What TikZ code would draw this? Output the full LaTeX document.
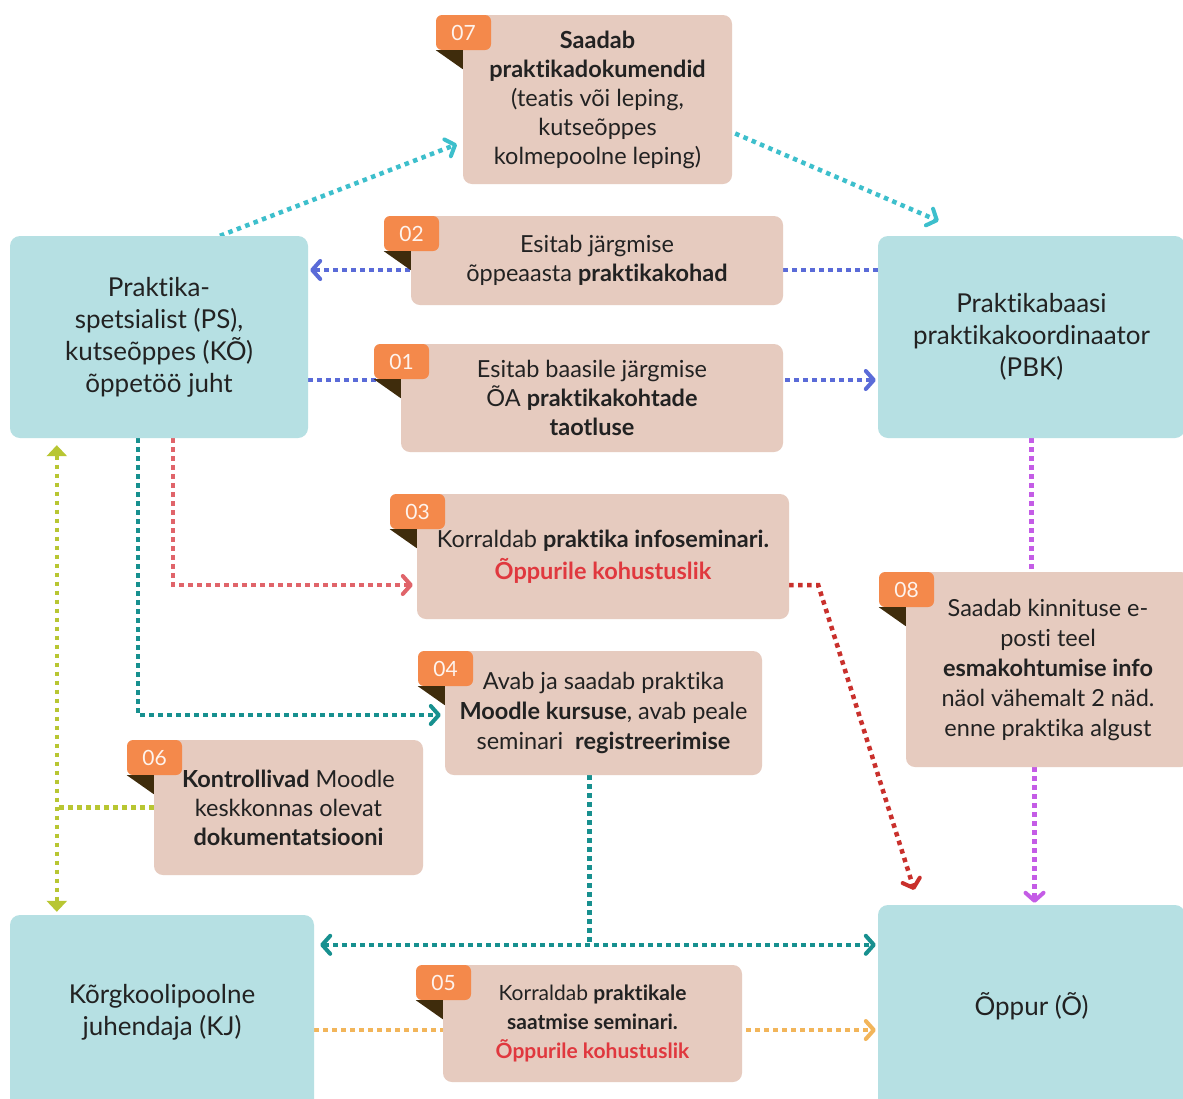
\documentclass[tikz,border=0pt]{standalone}
\usepackage{fontspec}
\setmainfont[Ligatures=CommonOff]{Lato}
\usetikzlibrary{arrows.meta,calc,backgrounds}

\definecolor{actorfill}{HTML}{B6E0E3}
\definecolor{stepfill}{HTML}{E6CBBF}
\definecolor{tagfill}{HTML}{F4894B}
\definecolor{tagshade}{HTML}{3F2C0C}
\definecolor{txt}{HTML}{222222}
\definecolor{redtxt}{HTML}{E0383E}
\definecolor{cyanline}{HTML}{3DBFCC}
\definecolor{blueline}{HTML}{5A6BD8}
\definecolor{redline}{HTML}{E0646A}
\definecolor{darkredline}{HTML}{C9302C}
\definecolor{tealline}{HTML}{17908F}
\definecolor{oliveline}{HTML}{B8C632}
\definecolor{purpleline}{HTML}{C45CE6}
\definecolor{orangeline}{HTML}{F2B55A}

\tikzset{
  actor/.style={fill=actorfill, rounded corners=10pt, align=center, text=txt,
    inner sep=0pt, font=\fontsize{26}{32}\selectfont},
  stepbox/.style={fill=stepfill, rounded corners=9pt, align=center, text=txt,
    inner sep=0pt, font=\fontsize{23.5}{29}\selectfont},
  tag/.style={fill=tagfill, rounded corners=6pt, minimum width=55pt, minimum height=35pt,
    anchor=north west, inner sep=0pt, text=white!90!tagfill, font=\fontsize{21}{21}\selectfont},
  barb/.tip={Straight Barb[length=8pt,width=18pt,line width=4pt,round]},
  dots/.style={line width=4.5pt, dash pattern=on 4.5pt off 4.5pt},
  flow/.style={dots, shorten >=2pt, -barb},
}

\begin{document}
\begin{tikzpicture}[x=1pt, y=-1pt]

  \useasboundingbox (0,0) rectangle (1183,1098);

  % Osapooled
  \node[actor, minimum width=298pt, minimum height=202pt] (ps) at (159,337)
    {Praktika-\\spetsialist (PS),\\kutseõppes (KÕ)\\õppetöö juht};
  \node[actor, minimum width=307pt, minimum height=202pt] (pbk) at (1031.5,337)
    {Praktikabaasi\\praktikakoordinaator\\(PBK)};
  \node[actor, minimum width=304pt, minimum height=195pt] (kj) at (162,1012.5)
    {Kõrgkoolipoolne\\juhendaja (KJ)};
  \node[actor, minimum width=307pt, minimum height=205pt] (op) at (1031.5,1007.5)
    {\raisebox{8pt}{Õppur (Õ)}};

  % Sammud
  \node[stepbox, minimum width=269pt, minimum height=169pt] (s07) at (597.5,99.5)
    {\textbf{Saadab}\\\textbf{praktikadokumendid}\\(teatis või leping,\\kutseõppes\\kolmepoolne leping)};
  \node[stepbox, minimum width=372pt, minimum height=89pt] (s02) at (597,260.5)
    {Esitab järgmise\\õppeaasta \textbf{praktikakohad}};
  \node[stepbox, minimum width=382pt, minimum height=108pt] (s01) at (592,398)
    {Esitab baasile järgmise\\ÕA \textbf{praktikakohtade}\\\textbf{taotluse}};
  \node[stepbox, minimum width=372pt, minimum height=125pt,
    font=\fontsize{23.5}{32}\selectfont] (s03) at (603,556.5)
    {Korraldab \textbf{praktika infoseminari.}\\\textcolor{redtxt}{\textbf{Õppurile kohustuslik}}};
  \node[stepbox, minimum width=317pt, minimum height=124pt,
    font=\fontsize{23.5}{30}\selectfont] (s04) at (603.5,713)
    {Avab ja saadab praktika\\\textbf{Moodle kursuse}, avab peale\\seminari~ \textbf{registreerimise}};
  \node[stepbox, minimum width=269pt, minimum height=135pt] (s06) at (288.5,807.5)
    {\textbf{Kontrollivad} Moodle\\keskkonnas olevat\\\textbf{dokumentatsiooni}};
  \node[stepbox, minimum width=299pt, minimum height=117pt,
    font=\fontsize{21}{29}\selectfont] (s05) at (592.5,1023.5)
    {Korraldab \textbf{praktikale}\\\textbf{saatmise seminari.}\\\textcolor{redtxt}{\textbf{Õppurile kohustuslik}}};
  \node[stepbox, minimum width=284pt, minimum height=195pt,
    font=\fontsize{23.5}{30}\selectfont] (s08) at (1048,669.5)
    {Saadab kinnituse e-\\posti teel\\\textbf{esmakohtumise info}\\näol vähemalt 2 näd.\\enne praktika algust};

  % Numbrisildid
  \foreach \s/\n in {s07/07, s02/02, s01/01, s03/03, s04/04, s06/06, s05/05, s08/08} {
    \node[tag] (t\n) at ($(\s.north west)+(-27,0)$) {\n};
    \fill[tagshade] (t\n.south west) -- (t\n.south west -| \s.west) -- ++(0,19) -- cycle;
  }

  % Nooled
  \begin{scope}[on background layer]
    \fill[white] (0,0) rectangle (1183,1098);
    % 07
    \draw[flow, cyanline] ([xshift=61pt]ps.north) -- ($(s07.west)+(-4,44)$);
    \draw[flow, cyanline] ($(s07.east)+(3,34)$) -- ($(pbk.north)+(-91,-14)$);
    % 02 ja 01
    \coordinate (l02) at ($(s02.center)+(0,9.5)$);
    \draw[flow, blueline] (pbk.west |- l02) -- (ps.east |- l02);
    \coordinate (l01) at ($(s01.center)+(0,-18)$);
    \draw[flow, blueline] (ps.east |- l01) -- (pbk.west |- l01);
    % 03
    \coordinate (l03) at ($(s03.west)+(-2,28.5)$);
    \draw[flow, redline] ([xshift=14pt]ps.south) |- (l03);
    \draw[flow, darkredline] (s03.east |- l03) -- ++(29,0) -- ($(op.north west)+(37,-13)$);
    % 04
    \coordinate (l04) at ($(s04.west)+(-2,2)$);
    \draw[flow, tealline] ([xshift=-21pt]ps.south) |- (l04);
    \coordinate (l45) at ($(kj.north east)+(4,30)$);
    \coordinate (c04) at ([xshift=-14pt]s04.south);
    \draw[dots, tealline] (c04) -- (c04 |- l45);
    \draw[flow, tealline, shorten <=2pt, barb-barb] (l45) -- (op.west |- l45);
    % 06
    \coordinate (o1) at ($(ps.south west)+(47,7)$);
    \coordinate (o2) at ($(kj.north west)+(47,-3)$);
    \draw[dots, oliveline, {Triangle[length=11pt,width=20pt]}-{Triangle[length=11pt,width=20pt]}] (o1) -- (o2);
    \draw[dots, oliveline] (s06.west) -- (o1 |- s06.west);
    % 08
    \draw[dots, purpleline] (pbk.south) -- (pbk.south |- s08.north);
    \coordinate (p08) at ([xshift=3pt]pbk.south);
    \draw[flow, purpleline] (p08 |- s08.south) -- (p08 |- op.north);
    % 05
    \coordinate (l05) at ($(s05.center)+(0,6.5)$);
    \draw[flow, orangeline] (kj.east |- l05) -- (op.west |- l05);
  \end{scope}

\end{tikzpicture}
\end{document}
